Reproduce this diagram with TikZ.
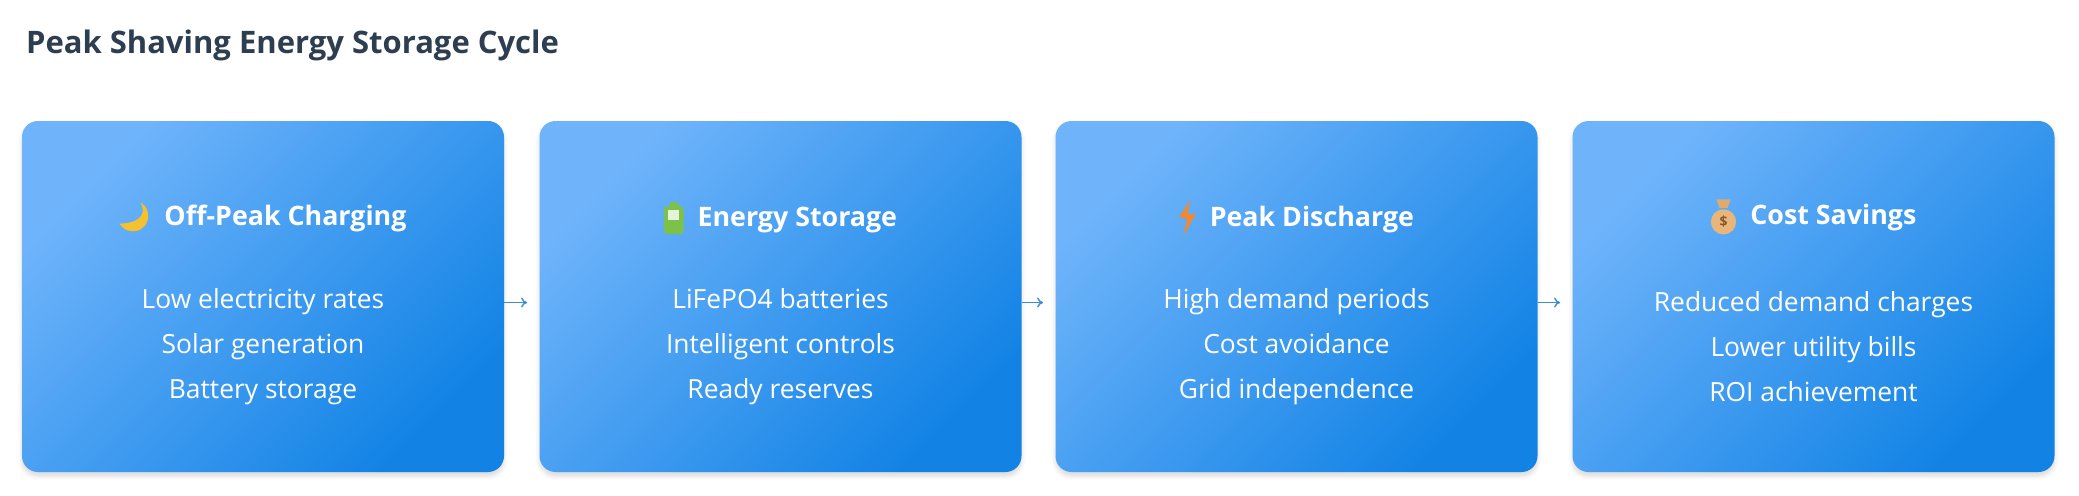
\documentclass[tikz,border=0pt]{standalone}
\usepackage{fontspec}
\setmainfont{Open Sans}
\usetikzlibrary{shadows.blur,arrows.meta}
\definecolor{titlec}{HTML}{2C3E50}
\definecolor{boxtop}{HTML}{6FB4FB}
\definecolor{boxbot}{HTML}{1283E5}
\definecolor{arrowc}{HTML}{3A8FD2}
\definecolor{moonc}{HTML}{F5C12E}
\definecolor{battc}{HTML}{7CC24A}
\definecolor{boltc}{HTML}{F2892E}
\definecolor{bagc}{HTML}{E8B57A}

\newcommand{\moonicon}{\tikz[baseline=-4pt,x=0.7pt,y=0.7pt]{%
  \fill[moonc] (4,11) arc[start angle=60,end angle=-150,radius=11] .. controls (2,-4) and (9,2) .. (4,11);}}
\newcommand{\batticon}{\tikz[baseline=-4pt,x=0.7pt,y=0.7pt]{%
  \fill[battc,rounded corners=1.5pt] (-7,-11) rectangle (7,9);
  \fill[battc] (-3,9) rectangle (3,12);
  \fill[white!80!battc] (-4,-8) rectangle (4,6);
  \fill[battc] (-4,-8) rectangle (4,-1);}}
\newcommand{\bolticon}{\tikz[baseline=-4pt,x=0.7pt,y=0.7pt]{%
  \fill[boltc] (2,13) -- (-6,0) -- (0,0) -- (-3,-13) -- (6,3) -- (0,3) -- cycle;}}
\newcommand{\bagicon}{\tikz[baseline=-4pt,x=0.7pt,y=0.7pt]{%
  \fill[bagc] (0,-4) circle (9);
  \fill[bagc!80!brown] (-3,6) -- (3,6) -- (5,12) -- (-5,12) -- cycle;
  \node[text=brown!70!black,font=\fontsize{7}{7}\selectfont\bfseries] at (0,-4) {\$};}}

\tikzset{
  stage/.style={draw=none,rounded corners=8pt,minimum width=241pt,minimum height=175.5pt,
    top color=boxtop,bottom color=boxbot,shading angle=45,
    blur shadow={shadow blur steps=6,shadow xshift=0pt,shadow yshift=-2pt,shadow opacity=15}},
  head/.style={text=white,font=\fontsize{13.4}{15}\selectfont\bfseries},
  body/.style={text=white,align=center,font=\fontsize{13.2}{22.5}\selectfont},
  link/.style={arrowc,line width=0.7pt,-{To[length=3pt,width=5pt]}}
}

\begin{document}
\begin{tikzpicture}[x=0.5pt,y=-0.5pt]
  \useasboundingbox (0,0) rectangle (2079,495);
  \node[anchor=west,text=titlec,font=\fontsize{15.5}{17}\selectfont\bfseries] (title) at (19,45) {Peak Shaving Energy Storage Cycle};

  % boxes
  \node[stage] (charge) at (263,296.5) {};
  \node[stage] (store) at (780.5,296.5) {};
  \node[stage] (peak) at (1296.5,296.5) {};
  \node[stage] (save) at (1813.5,296.5) {};

  % headings
  \node[head] (chargeh) at (263,218) {\moonicon\hspace{7pt}Off-Peak Charging};
  \node[head] (storeh) at (780.5,218) {\batticon\hspace{7pt}Energy Storage};
  \node[head] (peakh) at (1296.5,218) {\bolticon\hspace{7pt}Peak Discharge};
  \node[head] (saveh) at (1813.5,218) {\bagicon\hspace{7pt}Cost Savings};

  % details
  \node[body] (chargeb) at (263,347) {Low electricity rates\\Solar generation\\Battery storage};
  \node[body] (storeb) at (780.5,347) {LiFePO4 batteries\\Intelligent controls\\Ready reserves};
  \node[body] (peakb) at (1296.5,347) {High demand periods\\Cost avoidance\\Grid independence};
  \node[body] (saveb) at (1813.5,347) {Reduced demand charges\\Lower utility bills\\ROI achievement};

  % arrows
  \draw[link] ([yshift=-3pt]charge.east) -- ([yshift=-3pt,xshift=-6pt]store.west);
  \draw[link] ([yshift=-3pt]store.east) -- ([yshift=-3pt,xshift=-6pt]peak.west);
  \draw[link] ([yshift=-3pt]peak.east) -- ([yshift=-3pt,xshift=-6pt]save.west);
\end{tikzpicture}
\end{document}
